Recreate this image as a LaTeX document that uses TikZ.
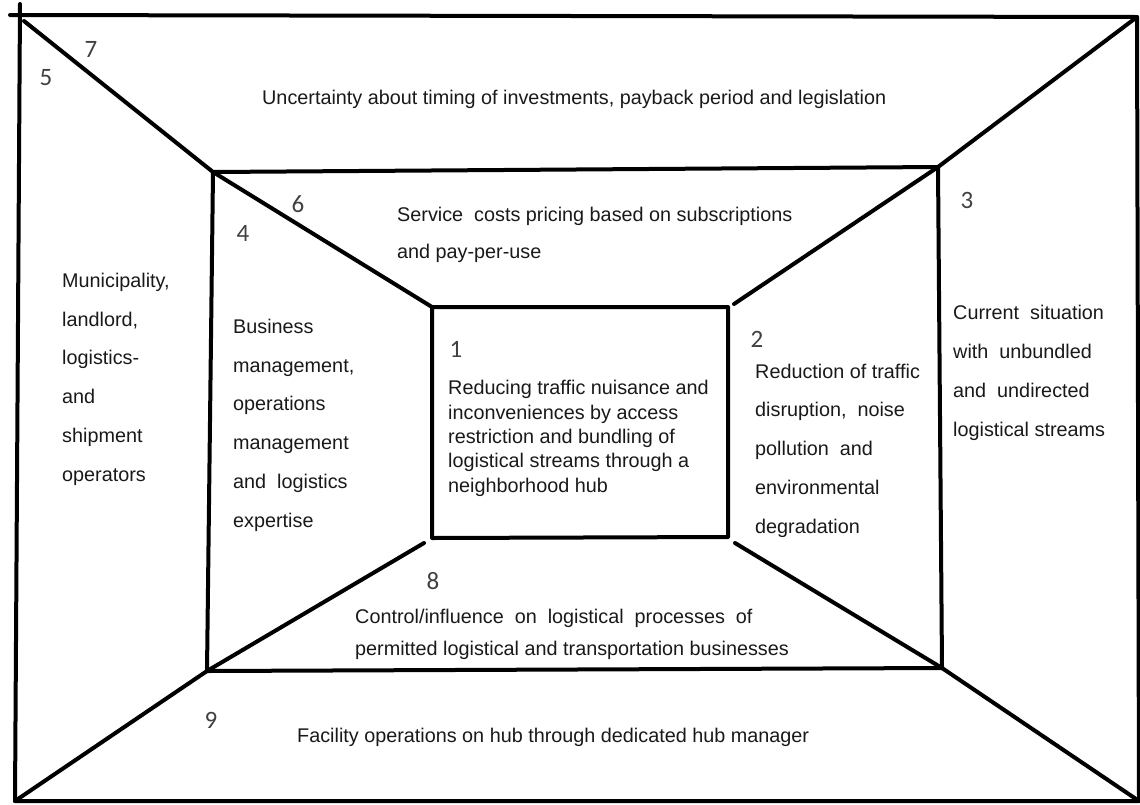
\documentclass[tikz,border=0pt]{standalone}
\usepackage{fontspec}
\setmainfont{Liberation Sans}
\newfontfamily\digitfont{Carlito}

\tikzset{
	frame/.style = {line width=4pt, line cap=round, line join=round},
	txt/.style = {inner sep=0pt, anchor=base west, align=left, text=black!90,
		font=\fontsize{19.8}{#1}\selectfont},
	txt/.default = 38.7,
	num/.style = {inner sep=0pt, anchor=base, text=black!75,
		font=\digitfont\fontsize{25}{25}\selectfont}
}

\begin{document}
\begin{tikzpicture}[x=1pt, y=-1pt]
	\useasboundingbox (0,0) rectangle (1140,804);

	% outer frame
	\coordinate (otl) at (24,21);
	\coordinate (otr) at (1137,17);
	\coordinate (obr) at (1139,801);
	\coordinate (obl) at (15,801);
	\draw[frame] (10,15) -- (otr) -- (obr) -- (obl);
	\draw[frame] (20,4) -- (obl);

	% middle frame
	\coordinate (mtl) at (213,172);
	\coordinate (mtr) at (938,167);
	\coordinate (mbr) at (942,668);
	\coordinate (mbl) at (207,671);
	\draw[frame] (mtl) -- (mtr) -- (mbr) -- (mbl) -- cycle;

	% inner box
	\coordinate (itl) at (432,307);
	\coordinate (itr) at (728,307);
	\coordinate (ibr) at (728,537);
	\coordinate (ibl) at (432,538);
	\draw[frame] (itl) -- (itr) -- (ibr) -- (ibl) -- cycle;

	% diagonals
	\coordinate (dtr) at (734,304);
	\coordinate (dbr) at (735,543);
	\coordinate (dbl) at (424,543);
	\draw[frame] (otl) -- (mtl) -- (itl);
	\draw[frame] (otr) -- (mtr) -- (dtr);
	\draw[frame] (obr) -- (mbr) -- (dbr);
	\draw[frame] (obl) -- (mbl) -- (dbl);

	% numbers
	\node[num] (n1) at (456,357) {1};
	\node[num] (n2) at (757,347) {2};
	\node[num] (n3) at (967,208) {3};
	\node[num] (n4) at (243,241) {4};
	\node[num] (n5) at (46,85) {5};
	\node[num] (n6) at (298,212) {6};
	\node[num] (n7) at (91,57) {7};
	\node[num] (n8) at (433,589) {8};
	\node[num] (n9) at (211,728) {9};

	% texts (placed at the baseline of their last line)
	\node[txt] (hub) at (448,492) [txt=24.3] {Reducing traffic nuisance and\\inconveniences by access\\restriction and bundling of\\logistical streams through a\\neighborhood hub};
	\node[txt] (nuisance) at (755,533) {Reduction of traffic\\disruption,\ \ noise\\pollution\ \ and\\environmental\\degradation};
	\node[txt] (current) at (953,436) {Current\ \ situation\\with\ \ unbundled\\and\ \ undirected\\logistical streams};
	\node[txt] (expertise) at (233,527) {Business\\management,\\operations\\management\\and\ \ logistics\\expertise};
	\node[txt] (actors) at (62,481) {Municipality,\\landlord,\\logistics-\\and\\shipment\\operators};
	\node[txt] (pricing) at (397,258) [txt=37] {Service\ \ costs pricing based on subscriptions\\and pay-per-use};
	\node[txt] (timing) at (262,104) {Uncertainty about timing of investments, payback period and legislation};
	\node[txt] (control) at (355,655) [txt=32] {Control/influence\ \ on\ \ logistical\ \ processes\ \ of\\permitted logistical and transportation businesses};
	\node[txt] (facility) at (297,742) {Facility operations on hub through dedicated hub manager};
\end{tikzpicture}
\end{document}
